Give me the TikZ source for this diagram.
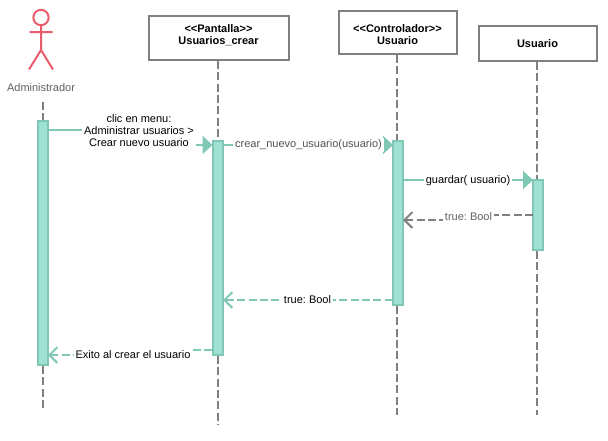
\documentclass[tikz,border=0pt]{standalone}
\usepackage{fontspec}
\setmainfont{Liberation Sans}
\usetikzlibrary{arrows.meta}
\definecolor{tealline}{HTML}{7FC8B6}
\definecolor{tealfill}{HTML}{9FE2D3}
\definecolor{grayline}{HTML}{808080}
\definecolor{actorred}{HTML}{EA5B6C}
\tikzset{
  objbox/.style={draw=grayline,line width=1.5pt,fill=white,inner sep=0pt},
  objtext/.style={align=center,inner sep=0pt,font=\fontsize{8.25}{9}\selectfont\bfseries},
  activation/.style={draw=tealline,line width=1.5pt,fill=tealfill,inner sep=0pt,minimum width=7.5pt},
  lifeline/.style={draw=grayline,line width=1.5pt,dash pattern={on 6pt off 2.5pt}},
  callmsg/.style={draw=tealline,line width=1.5pt,-{Triangle[length=7.5pt,width=13.5pt]}},
  backmsg/.style={draw=tealline,line width=1.5pt,dash pattern={on 6pt off 2.5pt},-{Straight Barb[length=6pt,width=12pt,line width=1.5pt]}},
  msglabel/.style={fill=white,inner sep=1.5pt,align=center,font=\fontsize{8.25}{9}\selectfont\frenchspacing},
}
\begin{document}
\begin{tikzpicture}[x=0.75pt,y=0.75pt,yscale=-1,xscale=1]
\useasboundingbox (0,0) rectangle (608,440);

%Actor
\node (head) [circle,draw=actorred,line width=1.5pt,minimum size=11.5pt,inner sep=0pt] at (41,17.5) {};
\draw [actorred,line width=1.5pt] (head.south) -- (41,50) (29.5,32) -- (52.5,32) (29,69.5) -- (41,50) -- (53,69.5);
\node (admin) [font=\fontsize{8.25}{9}\selectfont,text=black!62,inner sep=0pt] at (41,88) {Administrador};

% Objects
\node (pantalla) [objbox,minimum width=105pt,minimum height=33pt] at (219,38) {};
\node (pantallaText) [objtext] at (218.5,35) {<{}<Pantalla>{}>\\Usuarios\_crear};
\node (control) [objbox,minimum width=88.5pt,minimum height=32.25pt] at (398,32.5) {};
\node (controlText) [objtext] at (397.5,35) {<{}<Controlador>{}>\\Usuario};
\node (usuario) [objbox,minimum width=88.5pt,minimum height=26.25pt] at (538,43.5) {};
\node (usuarioText) [objtext] at (537.5,43.5) {Usuario};

% Free ends of the lifelines
\coordinate (adminTop) at (43,102);
\coordinate (adminEnd) at (43,408);
\coordinate (pantallaEnd) at (218,425);
\coordinate (controlEnd) at (397,415);
\coordinate (usuarioEnd) at (537,415);

% Activations
\node (actA) [activation,minimum height=183pt] at (43,243) {};
\node (actP) [activation,minimum height=160.5pt] at (218,248) {};
\node (actC) [activation,minimum height=123pt] at (397.5,223) {};
\node (actU) [activation,minimum height=52.5pt] at (538,215) {};

% Lifelines
\draw [lifeline] (adminTop) -- (actA.north);
\draw [lifeline] (actA.south) -- (adminEnd);
\draw [lifeline] (pantallaEnd |- pantalla.south) -- (pantallaEnd |- actP.north);
\draw [lifeline] (pantallaEnd |- actP.south) -- (pantallaEnd);
\draw [lifeline] (controlEnd |- control.south) -- (controlEnd |- actC.north);
\draw [lifeline] (controlEnd |- actC.south) -- (controlEnd);
\draw [lifeline] (usuarioEnd |- usuario.south) -- (usuarioEnd |- actU.north);
\draw [lifeline] (usuarioEnd |- actU.south) -- (usuarioEnd);

% Message ends
\coordinate (m1a) at (48,130);
\coordinate (m1b) at (212.5,145);
\coordinate (m2a) at (223,145);
\coordinate (m2b) at (393,145);
\coordinate (m3a) at (403,180);
\coordinate (m3b) at (533,180);
\coordinate (r1a) at (533,215);
\coordinate (r1b) at (403,220);
\coordinate (r2a) at (392.5,300);
\coordinate (r2b) at (223,300);
\coordinate (r3a) at (212,350);
\coordinate (r3b) at (48,355);

% Messages
\draw [callmsg] (m1a) -- (130,130) -- (130,145) -- (m1b);
\draw [callmsg] (m2a) -- (m2b);
\draw [callmsg] (m3a) -- (m3b);
\draw [backmsg,grayline] (r1a) -- (468,215) -- (468,220) -- (r1b);
\draw [backmsg] (r2a) -- (r2b);
\draw [backmsg] (r3a) -- (130,350) -- (130,355) -- (r3b);

% Labels
\node (m1text) [msglabel] at (139,131) {clic en menu:\\Administrar usuarios >\\Crear nuevo usuario};
\node (m2text) [msglabel,text=black!68] at (308.5,145) {crear\_nuevo\_usuario(usuario)};
\node (m3text) [msglabel] at (468,180.5) {guardar( usuario)};
\node (r1text) [msglabel,text=black!62] at (468.5,217) {true: Bool};
\node (r2text) [msglabel] at (307.5,300) {true: Bool};
\node (r3text) [msglabel] at (133,355) {Exito al crear el usuario};
\end{tikzpicture}
\end{document}
